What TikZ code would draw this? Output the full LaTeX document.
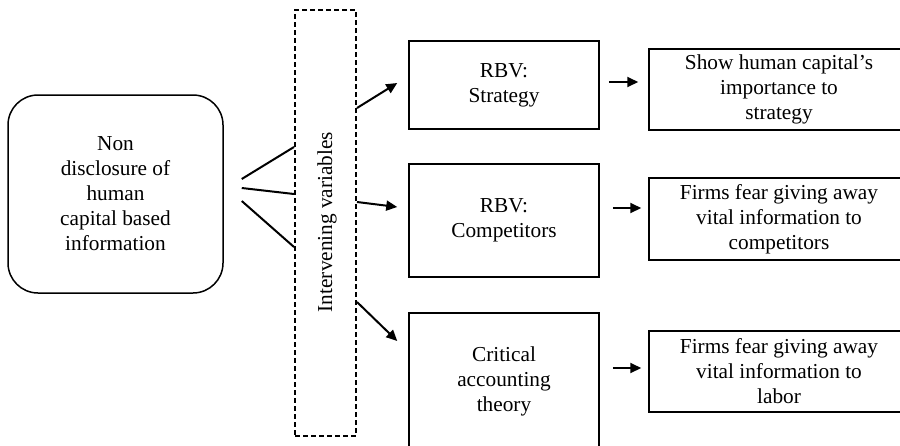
\documentclass[tikz,border=0pt]{standalone}
\usepackage{fontspec}
\setmainfont{Liberation Serif}
\usetikzlibrary{arrows.meta}
\begin{document}
\begin{tikzpicture}[x=1pt,y=-1pt,
  every node/.style={inner sep=0pt,align=center,font=\fontsize{21.3}{25}\selectfont},
  rbox/.style={draw,line width=1.5pt,rectangle},
  conn/.style={line width=2pt},
  arr/.style={line width=2pt,-{Triangle[length=11pt,width=10pt]}}]
\useasboundingbox (0,0) rectangle (900,445);
\clip (0,0) rectangle (900,445);
\fill[white] (0,0) rectangle (900,445);
% left box
\node[draw,line width=1.5pt,rounded corners=30pt,minimum width=215pt,minimum height=198pt] (L) at (115.5,194) {Non\\disclosure of\\human\\capital based\\information};
% intervening variables
\node[draw,line width=2pt,dash pattern=on 5pt off 3pt,minimum width=61pt,minimum height=426pt] (I) at (325.5,223) {};
\node[rotate=90] (IT) at (327,222) {Intervening variables};
% middle boxes
\node[rbox,minimum width=190pt,minimum height=88pt] (M1) at (504,85) {RBV:\\Strategy};
\node[rbox,minimum width=190pt,minimum height=113pt] (M2) at (504,220.5) {RBV:\\Competitors};
\node[rbox,minimum width=190pt,minimum height=136pt] (M3) at (504,381) {Critical\\accounting\\theory};
% right boxes
\node[rbox,minimum width=260pt,minimum height=81pt] (R1) at (779,89.5) {Show human capital’s\\importance to\\strategy};
\node[rbox,minimum width=260pt,minimum height=82pt] (R2) at (779,219) {Firms fear giving away\\vital information to\\competitors};
\node[rbox,minimum width=260pt,minimum height=81pt] (R3) at (779,371.5) {Firms fear giving away\\vital information to\\labor};
% lines left -> intervening
\draw[conn] ([shift={(18,-15)}]L.east) -- ([shift={(0,-76)}]I.west);
\draw[conn] ([shift={(18,-6)}]L.east) -- ([shift={(0,-29)}]I.west);
\draw[conn] ([shift={(18,7)}]L.east) -- ([shift={(0,24)}]I.west);
% arrows intervening -> middle
\draw[arr] ([shift={(0,-115)}]I.east) -- ([shift={(-11,-2)}]M1.west);
\draw[arr] ([shift={(0,-21)}]I.east) -- ([shift={(-11,-13.5)}]M2.west);
\draw[arr] ([shift={(0,79)}]I.east) -- ([shift={(-11,-40)}]M3.west);
% arrows middle -> right
\draw[arr] ([shift={(9,-3)}]M1.east) -- ([shift={(-10,-7.5)}]R1.west);
\draw[arr] ([shift={(13,-12.5)}]M2.east) -- ([shift={(-7,-11)}]R2.west);
\draw[arr] ([shift={(13,-13)}]M3.east) -- ([shift={(-7,-3.5)}]R3.west);
\end{tikzpicture}
\end{document}
